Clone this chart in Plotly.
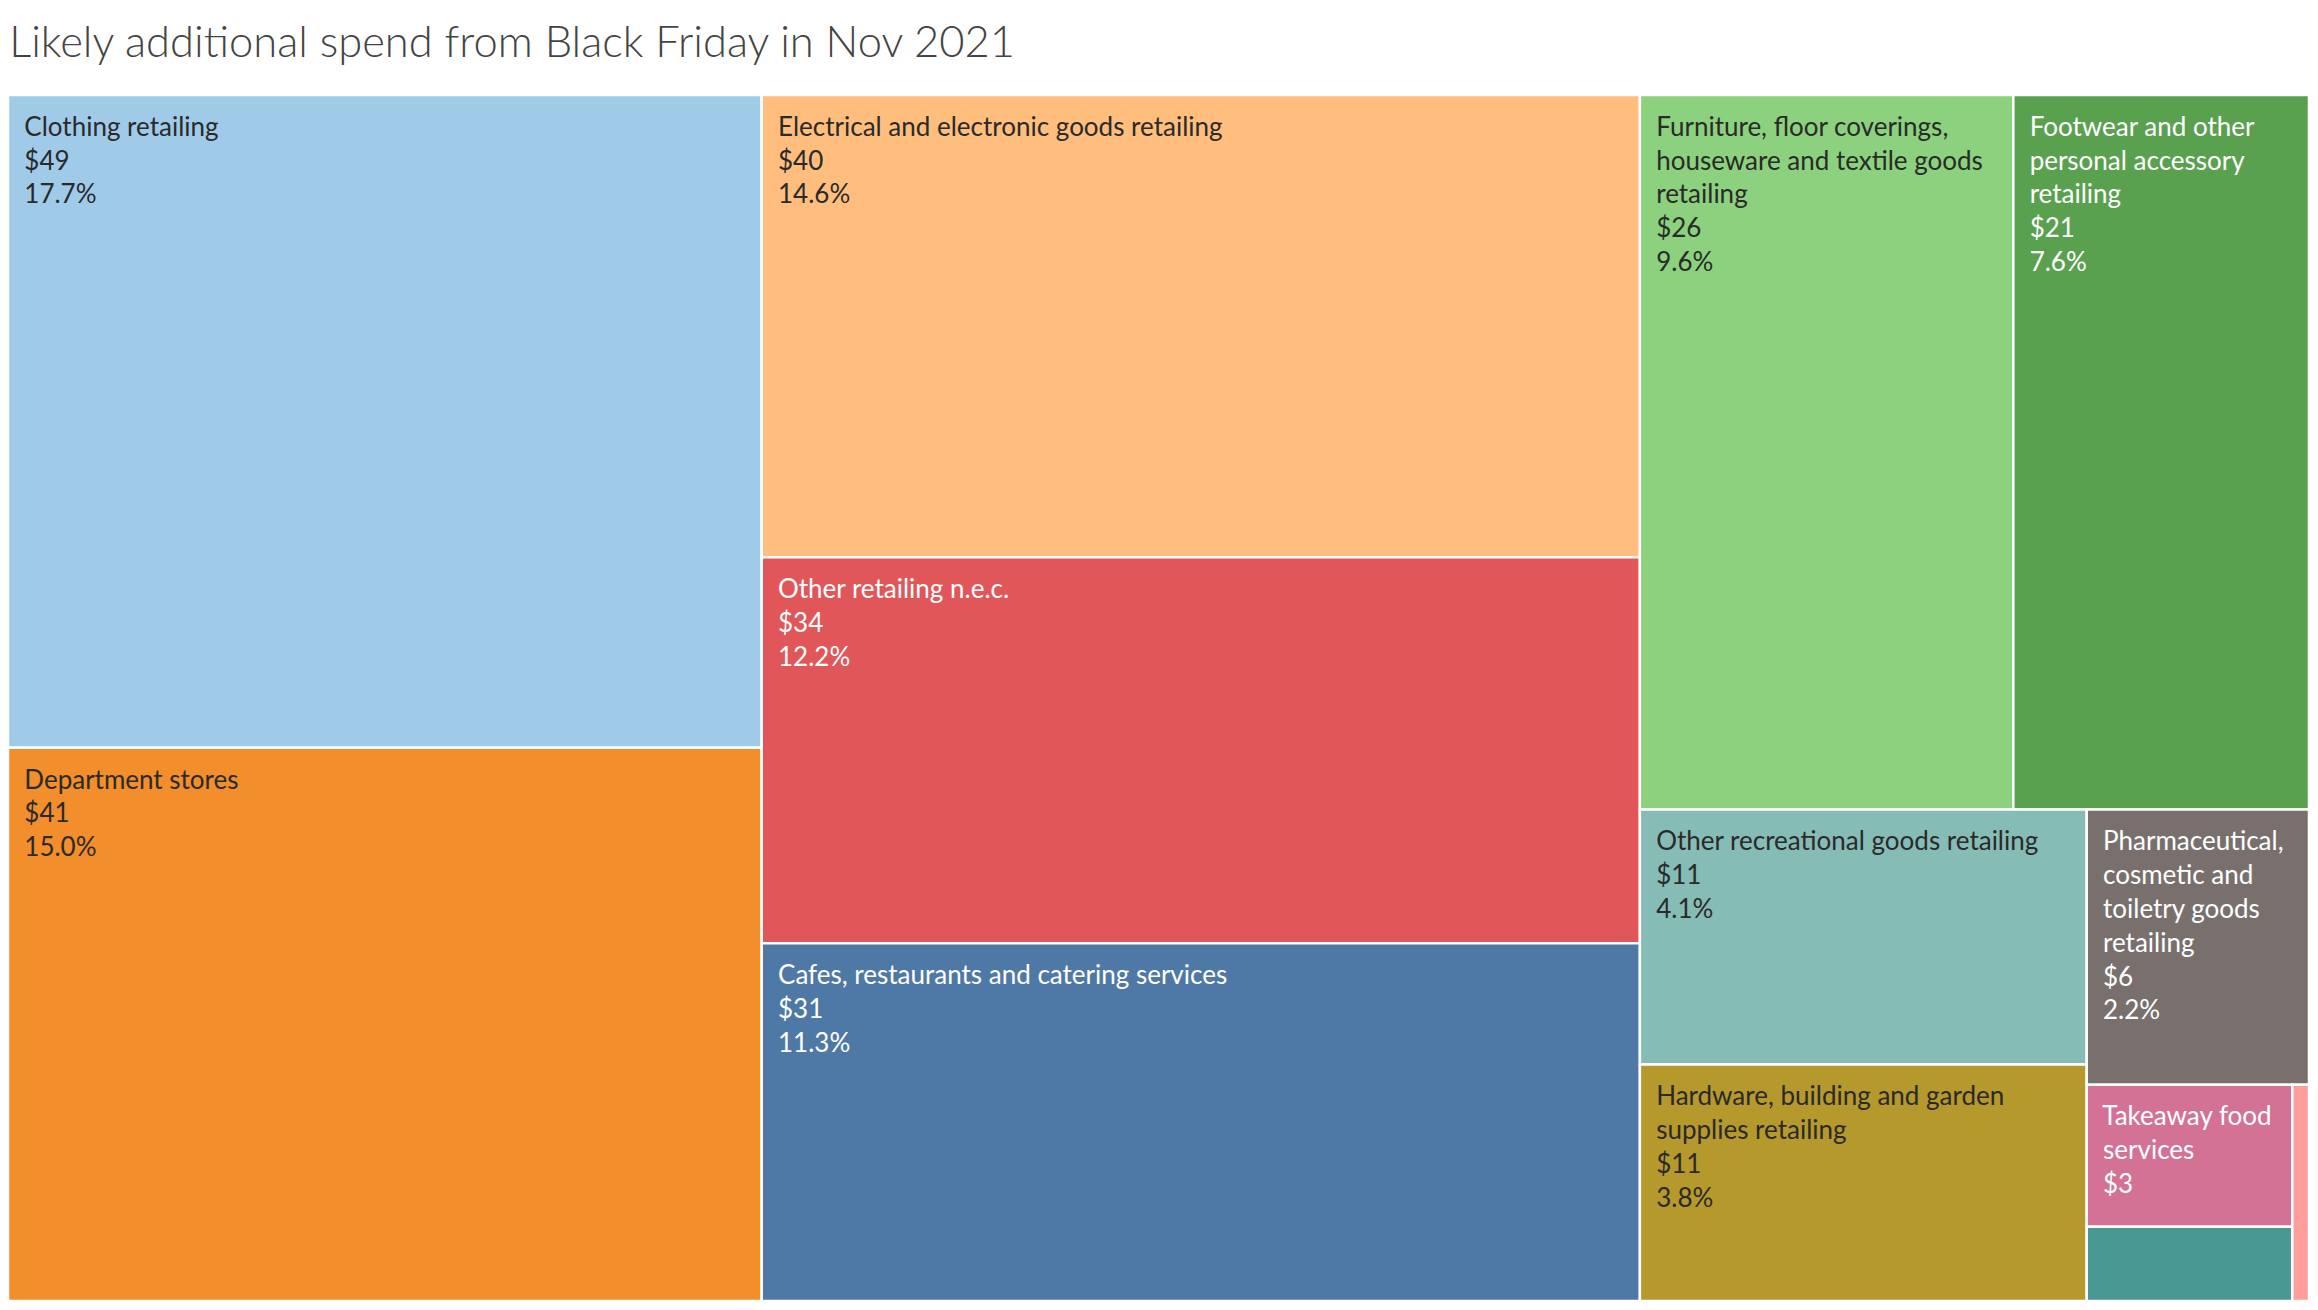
import plotly.graph_objects as go

# ---- data ----
categories = [
    "Clothing retailing",
    "Department stores",
    "Electrical and electronic goods retailing",
    "Other retailing n.e.c.",
    "Cafes, restaurants and catering services",
    "Furniture, floor coverings, houseware and textile goods retailing",
    "Footwear and other personal accessory retailing",
    "Other recreational goods retailing",
    "Hardware, building and garden supplies retailing",
    "Pharmaceutical, cosmetic and toiletry goods retailing",
    "Takeaway food services",
    "Newspaper and book retailing",
    "Other specialised food retailing",
]
# label lines as wrapped in the tiles
label_lines = [
    ["Clothing retailing"],
    ["Department stores"],
    ["Electrical and electronic goods retailing"],
    ["Other retailing n.e.c."],
    ["Cafes, restaurants and catering services"],
    ["Furniture, floor coverings,", "houseware and textile goods", "retailing"],
    ["Footwear and other", "personal accessory", "retailing"],
    ["Other recreational goods retailing"],
    ["Hardware, building and garden", "supplies retailing"],
    ["Pharmaceutical,", "cosmetic and", "toiletry goods", "retailing"],
    ["Takeaway food", "services"],
    [],
    [],
]
spend_dollars = [49, 41, 40, 34, 31, 26, 21, 11, 11, 6, 3, 2, 0]
share_pct = [17.7, 15.0, 14.6, 12.2, 11.3, 9.6, 7.6, 4.1, 3.8, 2.2, 1.05, 0.55, 0.13]
show_pct = [True] * 10 + [False, False, False]
colors = ["#A0CBE8", "#F28E2B", "#FFBE7D", "#E15759", "#4E79A7", "#8CD17D",
          "#59A14F", "#86BCB6", "#B6992D", "#79706E", "#D37295", "#499894", "#FF9D9A"]
text_colors = ["#2a2a2a", "#2a2a2a", "#2a2a2a", "#ffffff", "#ffffff", "#2a2a2a",
               "#ffffff", "#2a2a2a", "#2a2a2a", "#ffffff", "#ffffff", "#ffffff", "#ffffff"]

INDENT = "\u00a0\u00a0"
SPACER = '<span style="font-size:4px">\u00a0</span>'

texts = []
for lines, d, p, sp in zip(label_lines, spend_dollars, share_pct, show_pct):
    if not lines:
        texts.append("")
        continue
    rows = list(lines) + [f"${d}"]
    if sp:
        rows.append(f"{p:.1f}%")
    texts.append(SPACER + "<br>" + "<br>".join(INDENT + r for r in rows))

fig = go.Figure(go.Treemap(
    labels=categories,
    parents=[""] * len(categories),
    values=share_pct,
    text=texts,
    texttemplate="%{text}",
    textposition="top left",
    textfont=dict(family="Lato", size=26, color=text_colors),
    marker=dict(colors=colors, line=dict(color="white", width=2.5),
                pad=dict(t=0, l=0, r=0, b=0)),
    tiling=dict(packing="squarify", squarifyratio=1.618, pad=0),
    pathbar=dict(visible=False),
    sort=True,
    hoverinfo="label+value",
))

# page body has an 8px margin, so the figure is 8px smaller than the window
fig.update_layout(
    width=2310, height=1302,
    margin=dict(l=0, r=9, t=87, b=9),
    paper_bgcolor="white",
    title=dict(text="Likely additional spend from Black Friday in Nov 2021",
               x=0.0005, xanchor="left", xref="container",
               y=1 - 34 / 1302, yanchor="middle", yref="container",
               font=dict(family="Lato", size=43.5, color="#444444", weight=300)),
)

fig.write_html("out.html")
